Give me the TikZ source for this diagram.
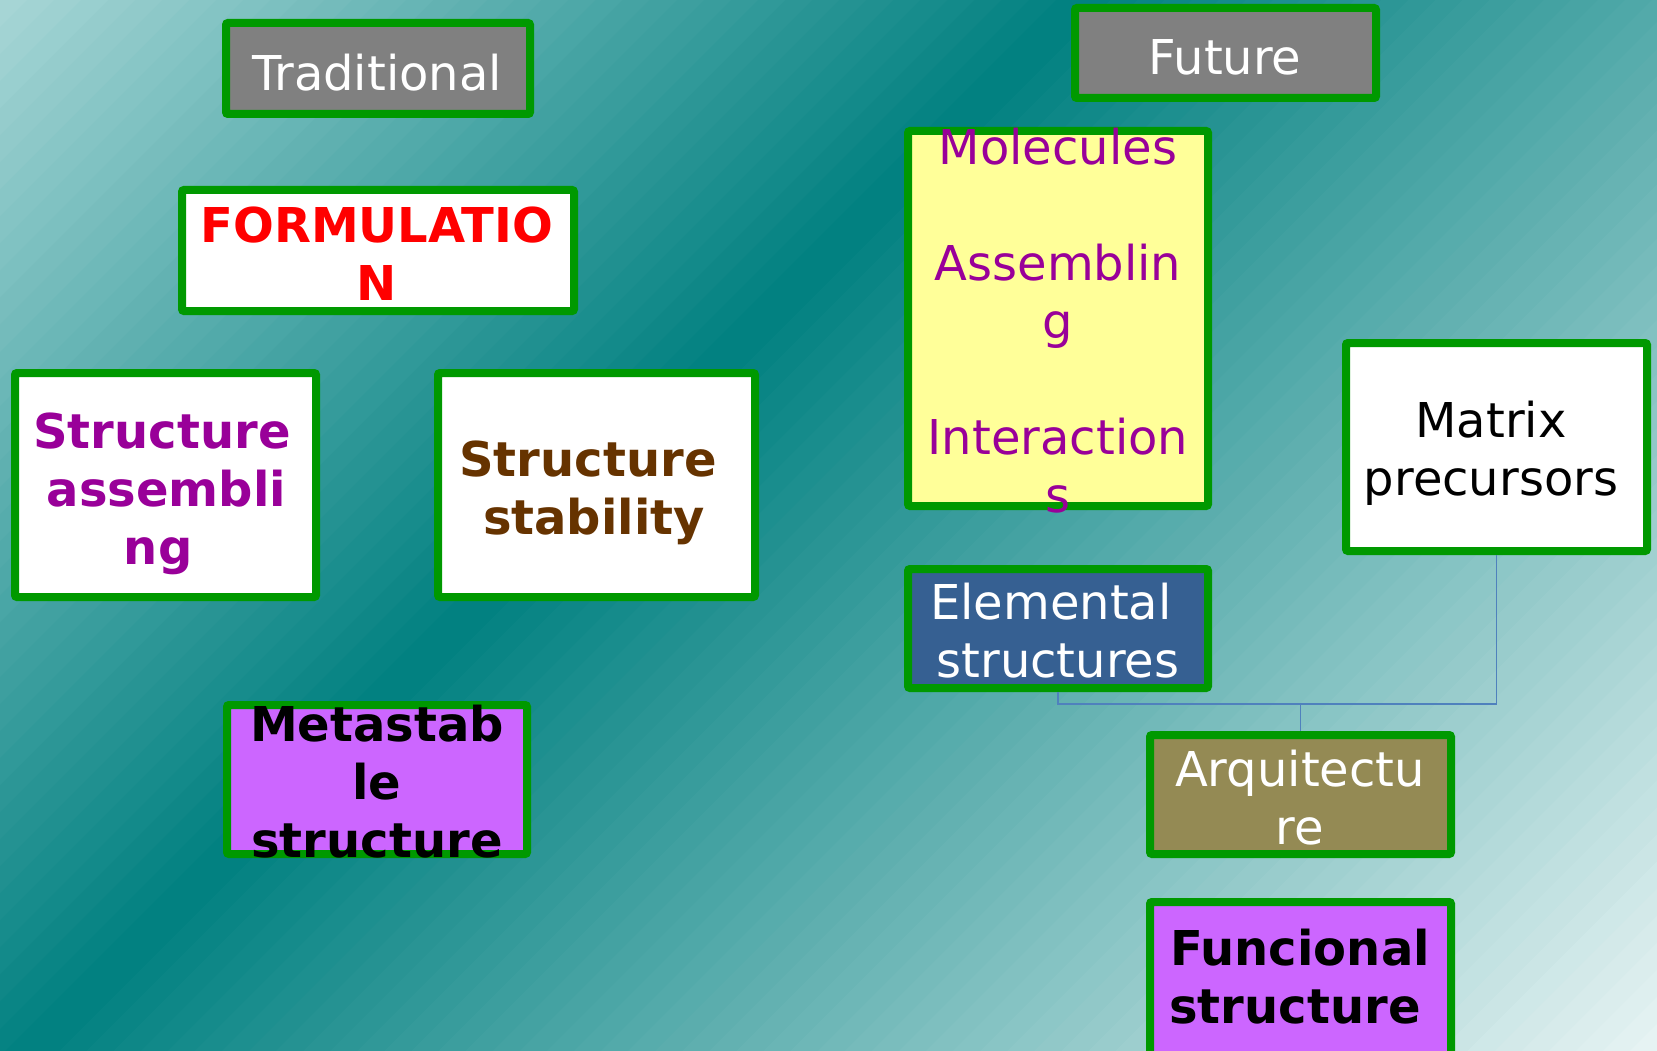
\documentclass[tikz,border=0pt]{standalone}
\usepackage{fontspec}
\setmainfont{DejaVu Sans}
\definecolor{bgA}{HTML}{A8D6D6}
\definecolor{bgT}{HTML}{008080}
\definecolor{bgB}{HTML}{E8F4F4}
\definecolor{bordergreen}{HTML}{009900}
\definecolor{boxgray}{HTML}{808080}
\definecolor{txtpurple}{HTML}{990099}
\definecolor{txtbrown}{HTML}{663300}
\definecolor{lilac}{HTML}{CC66FF}
\definecolor{paleyellow}{HTML}{FFFF99}
\definecolor{slateblue}{HTML}{366092}
\definecolor{khaki}{HTML}{948A54}
\definecolor{connblue}{HTML}{4F81BD}
\begin{document}
\begin{tikzpicture}[x=1pt,y=-1pt,
  box/.style={draw=bordergreen, line width=8pt, rounded corners=2pt, inner sep=0pt},
  txt/.style={font=\fontsize{48}{58}\selectfont, align=center, inner sep=0pt},
  btxt/.style={txt, font=\fontsize{48}{58}\selectfont\bfseries},
  conn/.style={draw=connblue, line width=1.6pt}]
\useasboundingbox (0,0) rectangle (1657,1051);
% background gradient
\begin{scope}
\clip (0,0) rectangle (1657,1051);
\foreach \i in {0,...,39}{
  \pgfmathsetmacro\ca{\i*27.08}
  \pgfmathsetmacro\cb{(\i+1)*27.08+1}
  \pgfmathsetmacro\p{(\i+0.5)/40*100}
  \colorlet{sc}{bgT!\p!bgA}
  \fill[sc] (\ca+100,-100) -- (\cb+100,-100) -- (\cb-1300,1300) -- (\ca-1300,1300) -- cycle;
}
\foreach \i in {0,...,59}{
  \pgfmathsetmacro\ca{1083.2+\i*27.08}
  \pgfmathsetmacro\cb{1083.2+(\i+1)*27.08+1}
  \pgfmathsetmacro\p{100-(\i+0.5)/60*100}
  \colorlet{sc}{bgT!\p!bgB}
  \fill[sc] (\ca+100,-100) -- (\cb+100,-100) -- (\cb-1300,1300) -- (\ca-1300,1300) -- cycle;
}
\end{scope}
% boxes
\node[box, fill=boxgray, minimum width=304pt, minimum height=91pt] (trad) at (378,68.5) {};
\node[box, fill=boxgray, minimum width=301pt, minimum height=90pt] (fut) at (1225.5,53) {};
\node[box, fill=white, minimum width=392pt, minimum height=121pt] (form) at (378,250.5) {};
\node[box, fill=white, minimum width=301pt, minimum height=224pt] (sassem) at (165.5,485) {};
\node[box, fill=white, minimum width=317pt, minimum height=224pt] (sstab) at (596.5,485) {};
\node[box, fill=lilac, minimum width=300pt, minimum height=149pt] (meta) at (377,779.5) {};
\node[box, fill=paleyellow, minimum width=300pt, minimum height=375pt] (mol) at (1058,318.5) {};
\node[box, fill=white, minimum width=301pt, minimum height=208pt] (matrix) at (1496.5,447) {};
\node[box, fill=slateblue, minimum width=300pt, minimum height=119pt] (elem) at (1058,628.5) {};
\node[box, fill=khaki, minimum width=301pt, minimum height=119pt] (arq) at (1300.5,794.5) {};
\node[box, fill=lilac, minimum width=301pt, minimum height=154pt] (func) at (1300.5,979) {};
% texts
\node[txt, text=white] (tradt) at (377,73) {Traditional};
\node[txt, text=white] (futt) at (1225,57) {Future};
\node[btxt, text=red] (formt) at (377,254) {FORMULATIO\\N};
\node[btxt, text=txtpurple] (sassemt) at (162,493.5) {Structure\\\mbox{\kern9pt assembli}\\\mbox{ng\kern7.5pt}};
\node[btxt, text=txtbrown] (sstabt) at (594,493) {\mbox{Structure\kern12pt}\\stability};
\node[btxt, text=black] (metat) at (377,782) {Metastab\\le\\structure};
\node[txt, text=txtpurple] (molt) at (1058,320.5) {Molecules\\[58pt]Assemblin\\g\\[58pt]Interaction\\s};
\node[txt, text=black] (matrixt) at (1491,453.5) {Matrix\\precursors};
\node[txt, text=white] (elemt) at (1058,630.5) {\mbox{Elemental\kern14pt}\\structures};
\node[txt, text=white] (arqt) at (1300,797.5) {Arquitectu\\re};
\node[btxt, text=black] (funct) at (1300,977) {Funcional\\\mbox{structure\kern10pt}};
% connectors
\coordinate (j) at (1300.5,704);
\draw[conn] (elem.south) |- (j) -| (matrix.south);
\draw[conn] (j) -- (arq.north);
\end{tikzpicture}
\end{document}
